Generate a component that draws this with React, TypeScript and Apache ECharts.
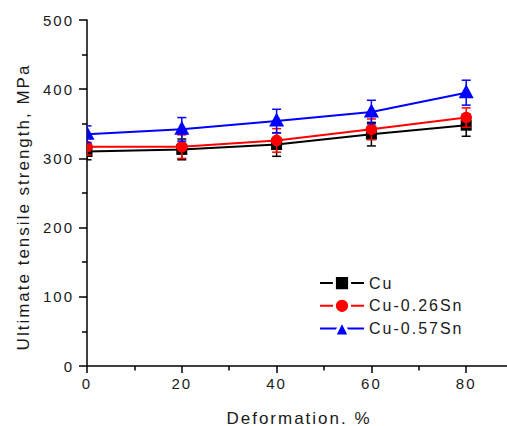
import React, { useEffect, useRef } from 'react';
import * as echarts from 'echarts';

const deformation = [0, 20, 40, 60, 80];
const seriesNames = ['Cu', 'Cu-0.26Sn', 'Cu-0.57Sn'];
const cuValues = [310, 313, 320, 335, 348];
const cuErrors = [12, 15, 17, 17, 16];
const sn026Values = [317, 317, 326, 342, 359];
const sn026Errors = [12, 17, 17, 15, 14];
const sn057Values = [335, 342, 354, 367, 395];
const sn057Errors = [12, 17, 17, 17, 18];
const seriesColors = ['#000000', '#ff0000', '#0000ff'];
const seriesSymbols = ['rect', 'circle', 'triangle'];

const xTitle = 'Deformation. %';
const yTitle = 'Ultimate tensile strength, MPa';

const FONT = '"Liberation Sans", Arial, sans-serif';
const TEXT_COLOR = '#1a1a1a';

function markerShape(kind: string, px: number, py: number, color: string) {
  if (kind === 'rect') {
    return { type: 'rect', shape: { x: px - 5.5, y: py - 5.5, width: 11, height: 11 }, style: { fill: color } };
  }
  if (kind === 'circle') {
    return { type: 'circle', shape: { cx: px, cy: py, r: 5.8 }, style: { fill: color } };
  }
  return {
    type: 'polygon',
    shape: { points: [[px, py - 8.5], [px - 7.5, py + 5.5], [px + 7.5, py + 5.5]] },
    style: { fill: color },
  };
}

export default function App() {
  const ref = useRef<HTMLDivElement>(null);

  useEffect(() => {
    if (!ref.current) return;
    const chart = echarts.init(ref.current, undefined, { renderer: 'svg' });
    const values = [cuValues, sn026Values, sn057Values];
    const errors = [cuErrors, sn026Errors, sn057Errors];

    const lineSeries = seriesNames.map((name, k) => ({
      name,
      type: 'line',
      data: deformation.map((x, i) => [x, values[k][i]]),
      showSymbol: false,
      symbol: seriesSymbols[k],
      symbolSize: 11,
      lineStyle: { color: seriesColors[k], width: 2 },
      itemStyle: { color: seriesColors[k] },
      z: 2,
    }));

    const markerSeries = seriesNames.map((_, k) => ({
      type: 'custom',
      clip: true,
      z: 3,
      data: deformation.map((x, i) => [x, values[k][i], errors[k][i]]),
      encode: { x: 0, y: 1 },
      renderItem: (params: any, api: any) => {
        const x = api.value(0);
        const y = api.value(1);
        const e = api.value(2);
        const p = api.coord([x, y]);
        const t = api.coord([x, y + e]);
        const b = api.coord([x, y - e]);
        const st = { stroke: seriesColors[k], lineWidth: 1.5 };
        return {
          type: 'group',
          children: [
            { type: 'line', shape: { x1: p[0], y1: t[1], x2: p[0], y2: b[1] }, style: st },
            { type: 'line', shape: { x1: p[0] - 4.5, y1: t[1], x2: p[0] + 4.5, y2: t[1] }, style: st },
            { type: 'line', shape: { x1: p[0] - 4.5, y1: b[1], x2: p[0] + 4.5, y2: b[1] }, style: st },
            markerShape(seriesSymbols[k], p[0], p[1], seriesColors[k]),
          ],
        };
      },
    }));

    chart.setOption({
      animation: false,
      backgroundColor: '#ffffff',
      grid: { left: 87, top: 20, width: 474, height: 346, containLabel: false, outerBoundsMode: 'none' },
      xAxis: {
        type: 'value',
        min: 0,
        max: 100,
        interval: 20,
        axisLine: { show: true, lineStyle: { color: '#000', width: 1.5 } },
        axisTick: { show: true, length: 7, inside: false, lineStyle: { color: '#000', width: 1.5 } },
        minorTick: { show: true, splitNumber: 2, length: 4.5, lineStyle: { color: '#000', width: 1.5 } },
        splitLine: { show: false },
        axisLabel: {
          color: TEXT_COLOR,
          fontSize: 15,
          fontFamily: FONT,
          margin: 10,
          showMaxLabel: false,
          formatter: (v: number) => (v > 80 ? '' : String(v)),
        },
      },
      yAxis: {
        type: 'value',
        min: 0,
        max: 500,
        interval: 100,
        axisLine: { show: true, lineStyle: { color: '#000', width: 1.5 } },
        axisTick: { show: true, length: 8, inside: false, lineStyle: { color: '#000', width: 1.5 } },
        minorTick: { show: true, splitNumber: 2, length: 5, lineStyle: { color: '#000', width: 1.5 } },
        splitLine: { show: false },
        axisLabel: { color: TEXT_COLOR, fontSize: 15, fontFamily: FONT, margin: 13 },
      },
      legend: {
        orient: 'vertical',
        left: 314,
        top: 269,
        itemWidth: 44,
        itemHeight: 19,
        itemGap: 4.5,
        data: seriesNames,
        itemStyle: { borderColor: '#ffffff', borderWidth: 3 },
        textStyle: { color: TEXT_COLOR, fontSize: 16, fontFamily: FONT },
      },
      graphic: [
        {
          type: 'text',
          x: 23,
          y: 207,
          rotation: Math.PI / 2,
          style: {
            text: yTitle,
            fill: TEXT_COLOR,
            font: `17px ${FONT}`,
            align: 'center',
            verticalAlign: 'middle',
          },
        },
        {
          type: 'text',
          x: 299,
          y: 418,
          style: {
            text: xTitle,
            fill: TEXT_COLOR,
            font: `17px ${FONT}`,
            align: 'center',
            verticalAlign: 'middle',
          },
        },
      ],
      series: [...lineSeries, ...markerSeries],
    });

    ref.current.querySelectorAll('text').forEach((t) => {
      t.setAttribute('letter-spacing', '2');
    });

    return () => {
      chart.dispose();
    };
  }, []);

  return (
    <div
      ref={ref}
      style={{ position: 'fixed', left: 0, top: 0, width: 507, height: 426, background: '#fff' }}
    />
  );
}
